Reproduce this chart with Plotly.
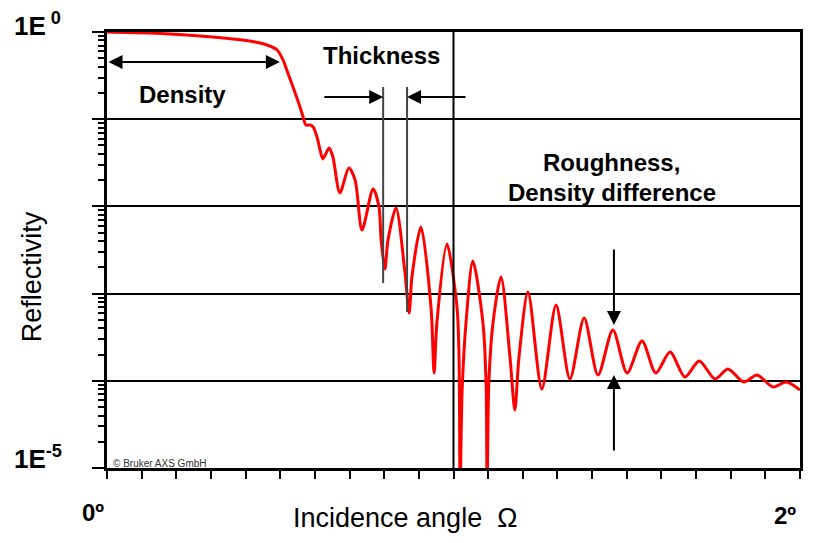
import plotly.graph_objects as go

# reflectivity curve
angle_deg = [0.000, 0.124, 0.268, 0.364, 0.427, 0.462, 0.491, 0.508, 0.522, 0.543,
             0.557, 0.566, 0.574, 0.586, 0.595, 0.606, 0.615, 0.623, 0.641, 0.652, 0.672,
             0.698, 0.716, 0.736, 0.768, 0.785, 0.791, 0.802, 0.811, 0.834, 0.860,
             0.872, 0.880, 0.906, 0.935, 0.944, 0.952, 0.981, 1.010, 1.016, 1.019,
             1.025, 1.036, 1.056, 1.085, 1.094, 1.097, 1.102, 1.114, 1.137, 1.163,
             1.177, 1.189, 1.215, 1.255, 1.296, 1.336, 1.377, 1.417, 1.460, 1.501,
             1.544, 1.584, 1.625, 1.668, 1.709, 1.755, 1.792, 1.838, 1.876, 1.922,
             1.960, 2.000]
reflectivity = [1.0, 0.974, 0.900, 0.831, 0.768, 0.710, 0.622, 0.478, 0.339, 0.1998,
                0.138, 0.106, 0.0858, 0.0858, 0.0814, 0.0625, 0.0443, 0.035, 0.0467, 0.0368, 0.01425,
                0.0276, 0.0201, 0.00536, 0.01583, 0.00984, 0.00412, 0.00191, 0.00412, 0.00959, 0.00172,
                0.000599, 0.00155, 0.00580, 0.000702, 0.000123, 0.000460, 0.00371, 0.000702, 0.000187, 5.6e-6,
                7.84e-5, 0.000460, 0.002365, 0.000460, 9.44e-5, 5.6e-6, 9.44e-5, 0.000460, 0.00155, 0.000187,
                4.62e-5, 0.000187, 0.001043, 8.05e-5, 0.00074, 1.048e-4, 0.000525, 1.165e-4, 0.000382, 1.23e-4,
                0.000286, 1.23e-4, 0.000214, 1.105e-4, 0.000169, 1.048e-4, 1.366e-4, 9.69e-5, 1.165e-4, 8.49e-5,
                9.69e-5, 7.84e-5]

# log minor tick positions (2..9 in every decade)
minor_ticks = [m * 10.0 ** e for e in range(-5, 0) for m in range(2, 10)]

FONT = "Arial, Liberation Sans, sans-serif"

fig = go.Figure()
fig.add_trace(go.Scatter(x=angle_deg, y=reflectivity, mode="lines",
                         line=dict(color="#ff0000", width=3, shape="spline", smoothing=0.8),
                         hoverinfo="skip", showlegend=False))

# vertical line at 1 degree
fig.add_shape(type="line", x0=1, x1=1, y0=0, y1=1, yref="paper",
              line=dict(color="black", width=2))

# thickness markers
fig.add_shape(type="line", x0=0.797, x1=0.797, y0=0.234, y1=0.00132,
              line=dict(color="#444444", width=2))
fig.add_shape(type="line", x0=0.866, x1=0.866, y0=0.234, y1=0.000615,
              line=dict(color="#444444", width=2))

arrow = dict(text="", showarrow=True, xref="x", yref="y", axref="x", ayref="y",
             arrowhead=2, arrowsize=1.4, arrowwidth=2, arrowcolor="black")
# density double arrow
fig.add_annotation(x=0.499, y=-0.344, ax=0.0, ay=-0.344, arrowside="end+start", **arrow)
# thickness arrows
fig.add_annotation(x=0.797, y=-0.745, ax=0.623, ay=-0.745, **arrow)
fig.add_annotation(x=0.866, y=-0.745, ax=1.039, ay=-0.745, **arrow)
# roughness arrows
fig.add_annotation(x=1.463, y=-3.36, ax=1.463, ay=-2.477, **arrow)
fig.add_annotation(x=1.463, y=-3.933, ax=1.463, ay=-4.817, **arrow)

bold = dict(family=FONT, size=24, color="black")
fig.add_annotation(x=0.219, y=-0.722, text="<b>Density</b>", showarrow=False, font=bold)
fig.add_annotation(x=0.791, y=-0.264, text="<b>Thickness</b>", showarrow=False, font=bold)
fig.add_annotation(x=1.457, y=-1.50, text="<b>Roughness,</b>", showarrow=False, font=bold)
fig.add_annotation(x=1.457, y=-1.835, text="<b>Density difference</b>", showarrow=False, font=bold)

# axis end labels and titles
lab = dict(showarrow=False, xref="paper", yref="paper", xanchor="center", yanchor="middle")
big = dict(family=FONT, size=26, color="black")
fig.add_annotation(x=-0.0996, y=1.018, text="<b>1E<sup> 0</sup></b>", font=big, **lab)
fig.add_annotation(x=-0.0996, y=0.023, text="<b>1E<sup>-5</sup></b>", font=big, **lab)
fig.add_annotation(x=-0.020, y=-0.101, text="<b>0º</b>", font=dict(family=FONT, size=24), **lab)
fig.add_annotation(x=0.978, y=-0.110, text="<b>2º</b>", font=dict(family=FONT, size=24), **lab)
fig.add_annotation(x=0.43, y=-0.115, text="Incidence angle  Ω", font=dict(family=FONT, size=27), **lab)
fig.add_annotation(x=-0.108, y=0.438, text="Reflectivity", textangle=-90,
                   font=dict(family=FONT, size=27), **lab)
fig.add_annotation(x=0.006, y=0.011, text="© Bruker AXS GmbH",
                   showarrow=False, xref="paper", yref="paper", xanchor="left", yanchor="middle",
                   font=dict(family=FONT, size=10, color="#333333"))

fig.update_layout(
    width=815, height=543,
    margin=dict(l=99, r=23, t=24, b=83),
    paper_bgcolor="white", plot_bgcolor="white",
    font=dict(family=FONT, color="black"),
    xaxis=dict(range=[0, 2], dtick=0.1, tick0=0, showticklabels=False,
               ticks="outside", ticklen=8, tickwidth=2, tickcolor="black",
               showgrid=False, zeroline=False,
               showline=True, linewidth=3, linecolor="black", mirror=True),
    yaxis=dict(type="log", range=[-5, 0], dtick=1, showticklabels=False,
               ticks="outside", ticklen=12, tickwidth=2, tickcolor="black",
               minor=dict(ticks="outside", ticklen=6, tickwidth=2, tickcolor="black",
                          tickmode="array", tickvals=minor_ticks, showgrid=False),
               showgrid=True, gridcolor="black", gridwidth=2, zeroline=False,
               showline=True, linewidth=3, linecolor="black", mirror=True),
)

fig.write_html("out.html")
